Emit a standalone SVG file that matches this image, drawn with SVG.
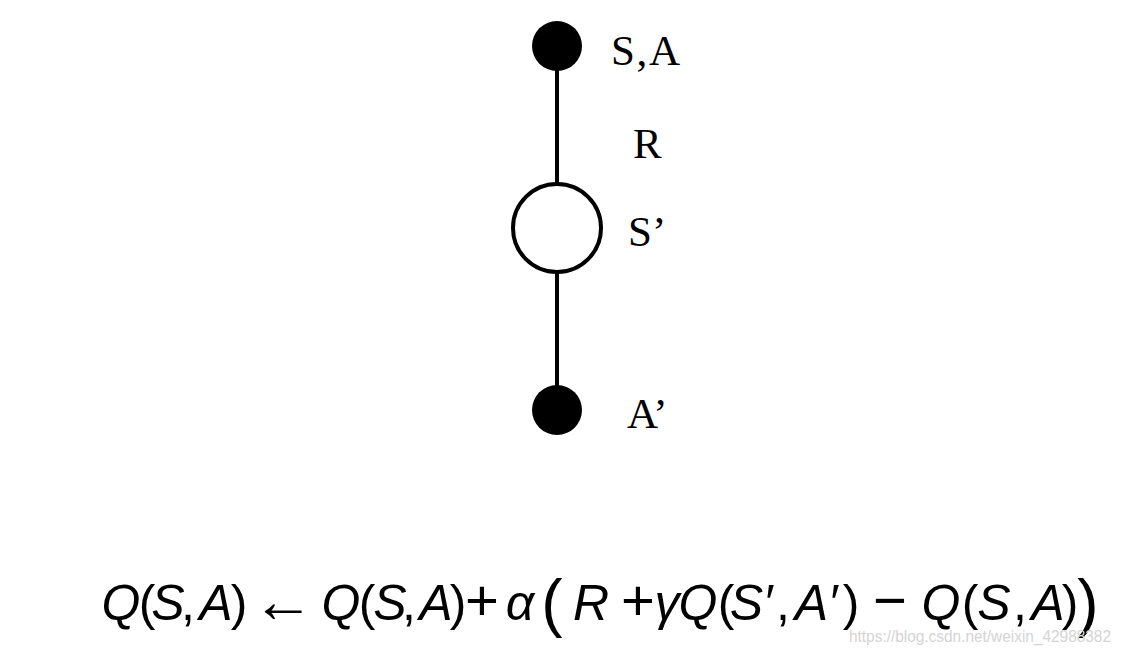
<svg xmlns="http://www.w3.org/2000/svg" width="1134" height="656" viewBox="0 0 1134 656">
<style>
.lbl{font-family:"Liberation Serif","DejaVu Serif",serif;font-size:43px;fill:#000}
.m{font-family:"Liberation Sans","DejaVu Sans",sans-serif;font-size:50px;fill:#000;text-anchor:middle}
.i{font-style:italic}
.op{font-size:58px}
.arr{font-size:62px}
.big{font-size:64px}
.wm{font-family:"Liberation Sans",Arial,sans-serif;font-size:17px;fill:#d4d4d4}
.edge{stroke:#000;stroke-width:4;fill:none}
</style>
<rect width="1134" height="656" fill="#fff"/>
<g id="connectors">
<line class="edge" x1="557" y1="46" x2="557" y2="184"/>
<line class="edge" x1="557" y1="272" x2="557" y2="410"/>
</g>
<g id="node-sa">
<circle cx="557" cy="46" r="25" fill="#000"/>
<text class="lbl" x="611" y="65" textLength="69" lengthAdjust="spacing">S,A</text>
</g>
<g id="label-r">
<text class="lbl" x="633" y="158">R</text>
</g>
<g id="node-s2">
<circle cx="557" cy="228" r="44" fill="#fff" stroke="#000" stroke-width="4"/>
<text class="lbl" x="628" y="246">S’</text>
</g>
<g id="node-a2">
<circle cx="557" cy="410" r="25" fill="#000"/>
<text class="lbl" x="627" y="428">A’</text>
</g>
<g id="formula">
<text class="m i" x="121" y="620">Q</text>
<text class="m" x="147" y="620">(</text>
<text class="m i" x="168" y="620">S</text>
<text class="m" x="188" y="620">,</text>
<text class="m i" x="216" y="620">A</text>
<text class="m" x="239" y="620">)</text>
<text class="m arr" x="283" y="622">←</text>
<text class="m i" x="341" y="620">Q</text>
<text class="m" x="367" y="620">(</text>
<text class="m i" x="390" y="620">S</text>
<text class="m" x="409" y="620">,</text>
<text class="m i" x="436" y="620">A</text>
<text class="m" x="458" y="620">)</text>
<text class="m op" x="482" y="620">+</text>
<text class="m i" x="520" y="620">α</text>
<text class="m big" x="552" y="625">(</text>
<text class="m i" x="591" y="620">R</text>
<text class="m op" x="638" y="620">+</text>
<text class="m i" x="667" y="620">γ</text>
<text class="m i" x="698" y="620">Q</text>
<text class="m" x="726" y="620">(</text>
<text class="m i" x="751" y="620">S′</text>
<text class="m" x="783" y="620">,</text>
<text class="m i" x="816" y="620">A′</text>
<text class="m" x="851" y="620">)</text>
<text class="m op" x="890" y="620">−</text>
<text class="m i" x="941" y="620">Q</text>
<text class="m" x="970" y="620">(</text>
<text class="m i" x="994" y="620">S</text>
<text class="m" x="1020" y="620">,</text>
<text class="m i" x="1048" y="620">A</text>
<text class="m" x="1070" y="620">)</text>
<text class="m big" x="1088" y="625">)</text>
</g>
<text class="wm" x="849" y="642" textLength="262" lengthAdjust="spacingAndGlyphs">https://blog.csdn.net/weixin_42988382</text>
</svg>
